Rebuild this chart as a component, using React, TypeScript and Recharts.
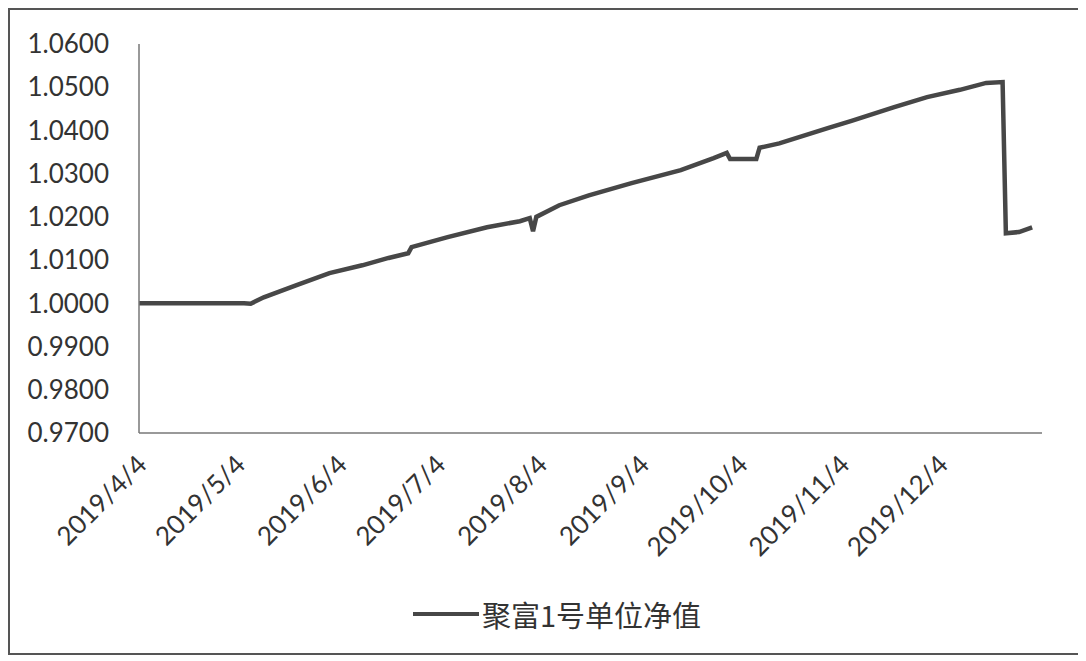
import { LineChart, Line, XAxis, YAxis, Legend } from "recharts";

// 聚富1号单位净值
const DATES = [
  "2019/4/4",
  "2019/5/3",
  "2019/5/6",
  "2019/5/8",
  "2019/5/12",
  "2019/5/22",
  "2019/6/1",
  "2019/6/11",
  "2019/6/19",
  "2019/6/25",
  "2019/6/26",
  "2019/7/7",
  "2019/7/19",
  "2019/7/29",
  "2019/8/1",
  "2019/8/2",
  "2019/8/3",
  "2019/8/10",
  "2019/8/19",
  "2019/9/1",
  "2019/9/16",
  "2019/9/26",
  "2019/9/30",
  "2019/10/1",
  "2019/10/9",
  "2019/10/10",
  "2019/10/16",
  "2019/10/31",
  "2019/11/7",
  "2019/11/20",
  "2019/11/30",
  "2019/12/10",
  "2019/12/18",
  "2019/12/23",
  "2019/12/24",
  "2019/12/28",
  "2020/1/1",
];

const NAV = [
  1.0, 1.0, 1.0, 0.9999, 1.0014, 1.0042, 1.007, 1.0088, 1.0105, 1.0116,
  1.013, 1.0153, 1.0176, 1.019, 1.0197, 1.0167, 1.02, 1.0227, 1.025, 1.0278,
  1.0308, 1.0336, 1.0348, 1.0334, 1.0334, 1.036, 1.037, 1.0406, 1.0422,
  1.0454, 1.0477, 1.0494, 1.051, 1.0512, 1.0162, 1.0165, 1.0176,
];

const X_TICKS = [
  "2019/4/4",
  "2019/5/4",
  "2019/6/4",
  "2019/7/4",
  "2019/8/4",
  "2019/9/4",
  "2019/10/4",
  "2019/11/4",
  "2019/12/4",
];
const X_END = "2020/1/4";

const Y_TICKS = [0.97, 0.98, 0.99, 1.0, 1.01, 1.02, 1.03, 1.04, 1.05, 1.06];

const SERIES_NAME = "聚富1号单位净值";

const toTime = (s: string) => {
  const [y, m, d] = s.split("/").map(Number);
  return Date.UTC(y, m - 1, d);
};

const fmtDate = (t: number) => {
  const d = new Date(t);
  return `${d.getUTCFullYear()}/${d.getUTCMonth() + 1}/${d.getUTCDate()}`;
};

const data = DATES.map((d, i) => ({ t: toTime(d), nav: NAV[i] }));

const FONT = "Lato, 'Noto Sans', sans-serif";

const DateTick = ({ x, y, payload }: any) => {
  const tx = x + 3;
  return (
    <text
      x={tx}
      y={y}
      dy="0.35em"
      textAnchor="end"
      transform={`rotate(-45 ${tx} ${y})`}
      fill="#333"
      fontSize={26}
      fontFamily={FONT}
    >
      {fmtDate(payload.value)}
    </text>
  );
};

const LegendContent = () => (
  <div
    style={{
      display: "flex",
      justifyContent: "center",
      alignItems: "center",
      height: 40,
      paddingLeft: 62,
    }}
  >
    <span
      style={{
        display: "inline-block",
        width: 66,
        height: 4,
        background: "#474747",
        marginRight: 3,
      }}
    />
    <span
      style={{
        fontFamily: "'Noto Sans CJK SC', sans-serif",
        fontSize: 29,
        color: "#333",
      }}
    >
      {SERIES_NAME}
    </span>
  </div>
);

export default function App() {
  return (
    <div
      style={{
        width: 1072,
        height: 647,
        border: "2px solid #555",
        boxSizing: "border-box",
        background: "#fff",
      }}
    >
      <LineChart
        width={1068}
        height={643}
        data={data}
        margin={{ top: 34, right: 36, left: 0, bottom: 19 }}
      >
        <XAxis
          dataKey="t"
          type="number"
          domain={[toTime(X_TICKS[0]), toTime(X_END)]}
          ticks={X_TICKS.map(toTime)}
          interval={0}
          height={161}
          tick={<DateTick />}
          tickLine={false}
          tickSize={0}
          tickMargin={27}
          axisLine={{ stroke: "#777", strokeWidth: 1.5 }}
        />
        <YAxis
          type="number"
          domain={[0.97, 1.06]}
          ticks={Y_TICKS}
          interval={0}
          width={129}
          tickFormatter={(v: number) => v.toFixed(4)}
          tick={{ fontSize: 26, fill: "#333", fontFamily: FONT }}
          tickLine={false}
          tickSize={0}
          tickMargin={30}
          axisLine={{ stroke: "#777", strokeWidth: 1.5 }}
        />
        <Legend
          verticalAlign="bottom"
          height={40}
          content={<LegendContent />}
        />
        <Line
          type="linear"
          dataKey="nav"
          name={SERIES_NAME}
          stroke="#474747"
          strokeWidth={4.5}
          dot={false}
          isAnimationActive={false}
        />
      </LineChart>
    </div>
  );
}
